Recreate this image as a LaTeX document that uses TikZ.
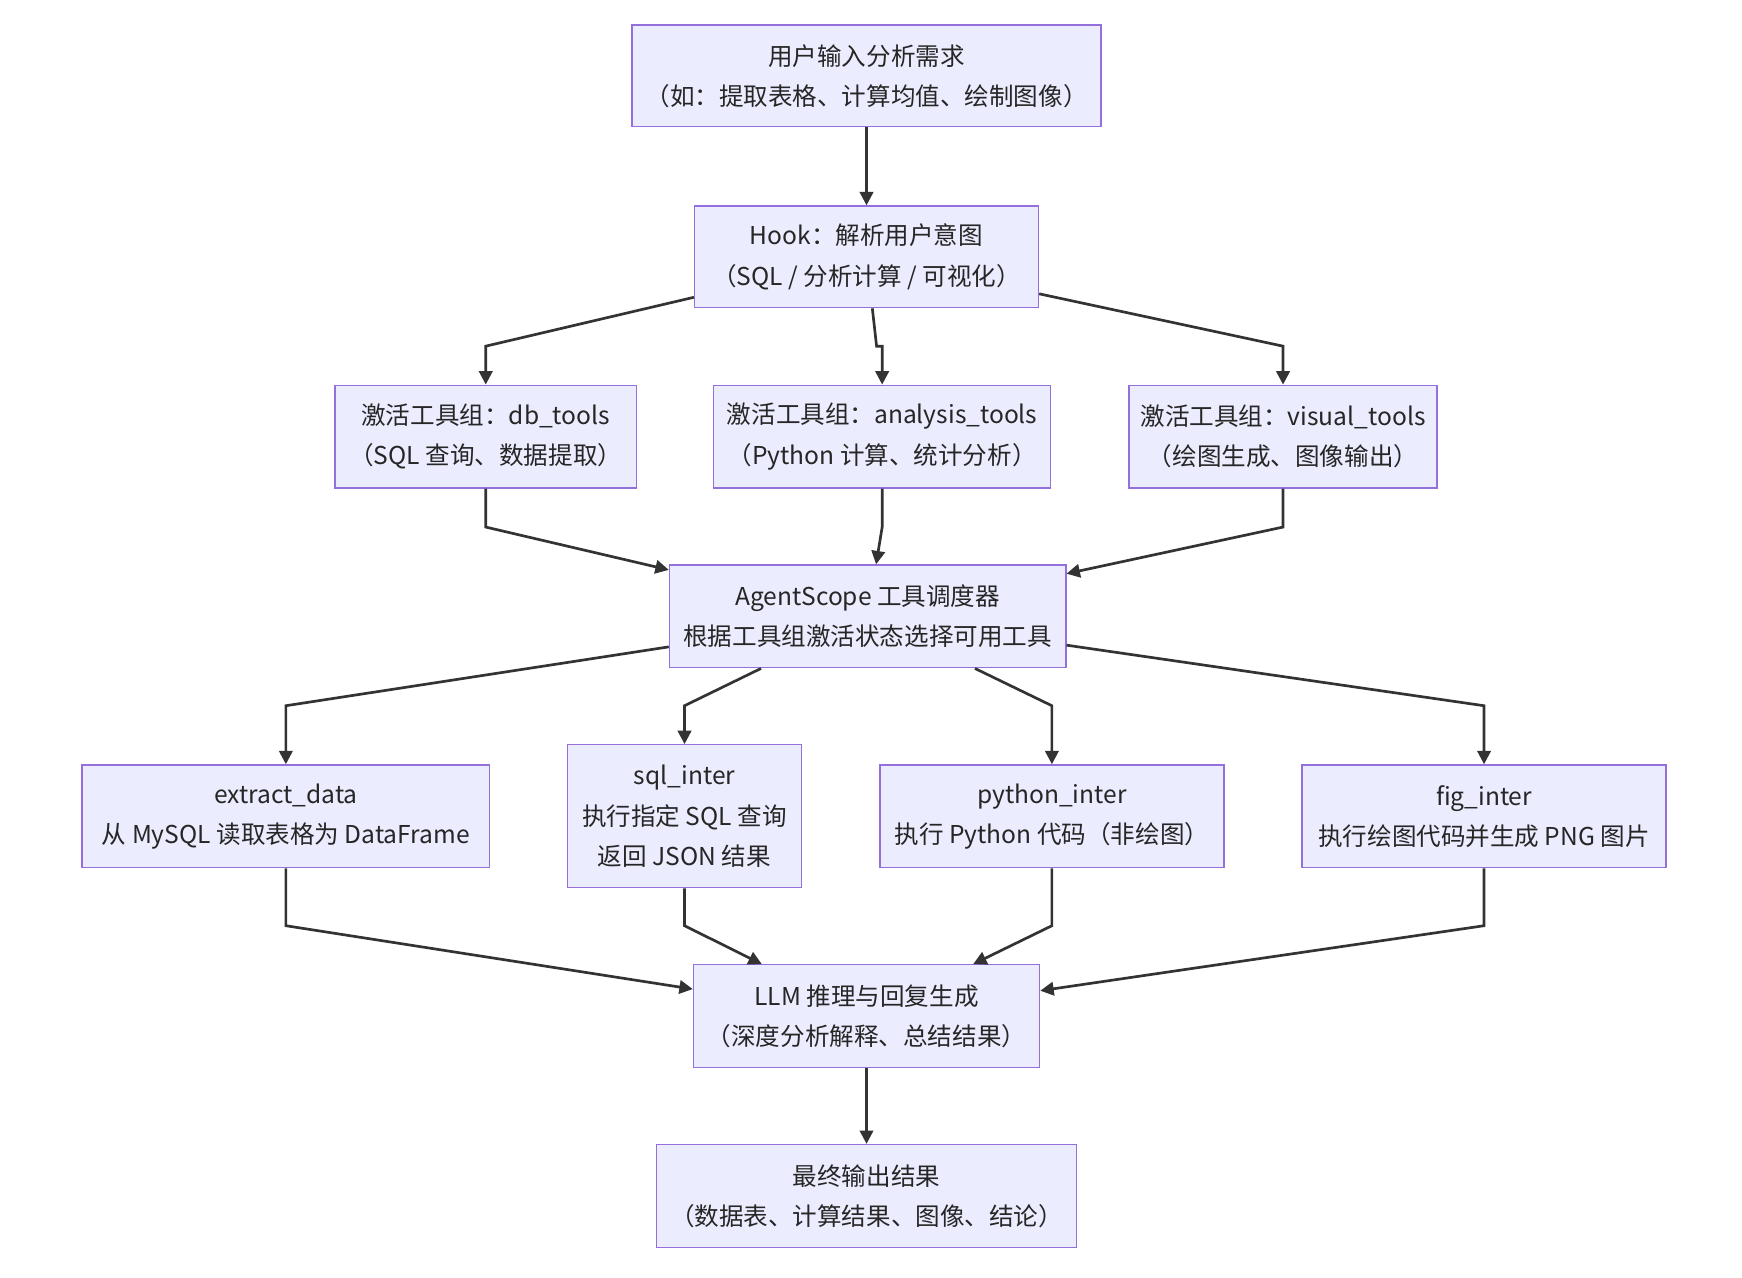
\documentclass[tikz,border=0pt]{standalone}
\usepackage{fontspec}
\setmainfont{Noto Sans CJK SC}
\usetikzlibrary{arrows.meta}
\definecolor{nfill}{HTML}{ECECFF}
\definecolor{nline}{HTML}{9370DB}
\definecolor{eline}{HTML}{333333}
\tikzset{
 box/.style={draw=nline,fill=nfill,line width=0.6pt,align=center,inner sep=0pt,
   font=\fontsize{11}{18}\selectfont,text=black!85},
 edge/.style={draw=eline,line width=1.2pt,-{Triangle[length=6pt,width=6pt]}}
}
\newcommand{\bx}[6]{\node[box,minimum width=#4*0.5pt,minimum height=#5*0.5pt] (#1) at (#2,#3) {#6};}
\begin{document}
\begin{tikzpicture}[x=0.5pt,y=-0.5pt]
\useasboundingbox (0,0) rectangle (1560,1144);
\bx{A}{776}{68}{420}{91}{用户输入分析需求\\（如：提取表格、计算均值、绘制图像）}
\bx{B}{776}{230}{308}{91}{Hook：解析用户意图\\（SQL / 分析计算 / 可视化）}
\bx{C1}{435}{391}{270}{92}{激活工具组：db\_tools\\（SQL 查询、数据提取）}
\bx{C2}{790}{391}{302}{92}{激活工具组：analysis\_tools\\（Python 计算、统计分析）}
\bx{C3}{1149}{391}{276}{92}{激活工具组：visual\_tools\\（绘图生成、图像输出）}
\bx{D}{777}{552}{355}{92}{AgentScope 工具调度器\\根据工具组激活状态选择可用工具}
\bx{E1}{256}{731}{365}{92}{extract\_data\\从 MySQL 读取表格为 DataFrame}
\bx{E2}{613}{731}{209}{128}{sql\_inter\\执行指定 SQL 查询\\返回 JSON 结果}
\bx{E3}{942}{731}{308}{92}{python\_inter\\执行 Python 代码（非绘图）}
\bx{E4}{1329}{731}{326}{92}{fig\_inter\\执行绘图代码并生成 PNG 图片}
\bx{F}{776}{910}{310}{92}{LLM 推理与回复生成\\（深度分析解释、总结结果）}
\bx{G}{776}{1071}{376}{92}{最终输出结果\\（数据表、计算结果、图像、结论）}
\draw[edge] (A) -- (B);
\draw[edge] (B) -- (435,310) -- (C1);
\draw[edge] (B) -- (785,310) -- (790,310) -- (C2);
\draw[edge] (B) -- (1149,310) -- (C3);
\draw[edge] (C1) -- (435,472) -- (D);
\draw[edge] (C2) -- (790,472) -- (D);
\draw[edge] (C3) -- (1149,472) -- (D);
\draw[edge] (D) -- (256,632) -- (E1);
\draw[edge] (D) -- (613,632) -- (E2);
\draw[edge] (D) -- (942,632) -- (E3);
\draw[edge] (D) -- (1329,632) -- (E4);
\draw[edge] (E1) -- (256,829) -- (F);
\draw[edge] (E2) -- (613,829) -- (F);
\draw[edge] (E3) -- (942,829) -- (F);
\draw[edge] (E4) -- (1329,829) -- (F);
\draw[edge] (F) -- (G);
\end{tikzpicture}
\end{document}
